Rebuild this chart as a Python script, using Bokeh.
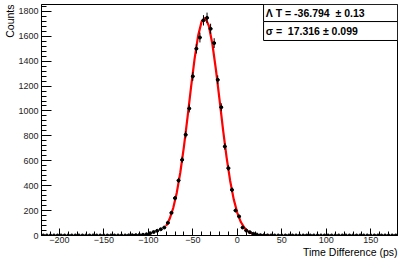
import math
from bokeh.plotting import figure
from bokeh.models import (Range1d, SingleIntervalTicker, Label, BoxAnnotation,
                          ColumnDataSource, Title)
from bokeh.embed import file_html
from bokeh.resources import INLINE

# ---- data ----
hist_start = -220.0
bin_width = 4.0
counts = [
    0, 0, 0, 0, 0, 0, 0, 0, 0, 0,          # -218 .. -182
    0, 0, 0, 0, 0, 0, 0, 0, 0, 0,          # -178 .. -142
    0, 0, 0, 0, 1, 2, 3, 4, 6, 10,         # -138 .. -102
    18, 28, 38, 50, 64, 102, 182, 300, 442, 608,   # -98 .. -62
    809, 1020, 1278, 1500, 1590, 1728, 1748, 1660, 1545, 1250,  # -58 .. -22
    1030, 715, 541, 367, 201, 153, 64, 40, 27, 14,  # -18 .. 18
    7, 3, 2, 1, 0, 0, 0, 0, 0, 0,          # 22 .. 58
    0, 0, 0, 0, 0, 0, 0, 0, 0, 0,          # 62 .. 98
    0, 0, 0, 0, 0, 0, 0, 0, 0, 0,          # 102 .. 138
    0, 0, 0, 0, 0, 0, 0, 0, 0, 0,          # 142 .. 178
]
fit_x = [-80, -76, -72, -68, -64, -60, -56, -52, -48, -44, -40, -36, -32,
         -28, -24, -20, -16, -12, -8, -4, 0, 4, 8, 12, 16, 20, 24, 28, 32, 36, 40]
fit_y = [77, 134, 221, 344, 508, 712, 945, 1190, 1419, 1605, 1720, 1748, 1684,
         1538, 1331, 1093, 849, 626, 438, 290, 182, 108, 61, 33, 17, 8, 4, 2, 1, 0, 0]
stat_lines = ["\u039b T = -36.794 \u00a0\u00b1 0.13", "\u03c3 = \u00a017.316 \u00b1 0.099"]
x_title = "Time Difference (ps)"
y_title = "Counts"

x_lo, x_hi = -220, 180
y_lo, y_hi = 0, 1855

centers = [hist_start + bin_width * (i + 0.5) for i in range(len(counts))]
errs = [math.sqrt(c) for c in counts]
src = ColumnDataSource(dict(
    x=centers, y=counts,
    xl=[c - bin_width / 2 for c in centers], xr=[c + bin_width / 2 for c in centers],
    yl=[c - e for c, e in zip(counts, errs)], yh=[c + e for c, e in zip(counts, errs)],
))

FONT = "Liberation Sans"

p = figure(width=399, height=261, output_backend="svg", toolbar_location=None,
           x_range=Range1d(x_lo, x_hi), y_range=Range1d(y_lo, y_hi),
           min_border_left=41, min_border_right=2, min_border_top=4, min_border_bottom=26)
p.background_fill_color = "white"
p.border_fill_color = "white"
p.outline_line_color = "black"
p.outline_line_width = 1
p.grid.visible = False

p.xaxis.ticker = SingleIntervalTicker(interval=50, num_minor_ticks=5)
p.yaxis.ticker = SingleIntervalTicker(interval=200, num_minor_ticks=5)
for ax in (p.xaxis, p.yaxis):
    ax.axis_line_color = "black"
    ax.major_tick_out = 0
    ax.minor_tick_out = 0
    ax.major_tick_line_color = "black"
    ax.minor_tick_line_color = "black"
    ax.major_label_text_font = FONT
    ax.major_label_text_font_size = "9px"
    ax.major_label_text_color = "#222222"
p.xaxis.major_tick_in = 7
p.xaxis.minor_tick_in = 4
p.yaxis.major_tick_in = 10
p.yaxis.minor_tick_in = 5
p.xaxis.major_label_standoff = 1
p.yaxis.major_label_standoff = 3

# fit curve
p.line(fit_x, fit_y, line_color="#ff0000", line_width=2.2)

# data points with error bars
p.segment(x0="x", y0="yl", x1="x", y1="yh", source=src, line_color="black", line_width=1)
p.segment(x0="xl", y0="y", x1="xr", y1="y", source=src, line_color="black", line_width=1)
p.scatter(x="x", y="y", source=src, marker="circle", size=3,
          fill_color="black", line_color="black")

# stats box
p.add_layout(BoxAnnotation(left=29.5, right=x_hi, top=y_hi, bottom=1718,
                           fill_color="white", fill_alpha=1.0,
                           line_color="black", line_width=1, line_alpha=1.0))
p.add_layout(BoxAnnotation(left=29.5, right=x_hi, top=1718, bottom=1566,
                           fill_color="white", fill_alpha=1.0,
                           line_color="black", line_width=1, line_alpha=1.0))
for txt, yy in zip(stat_lines, [1785, 1644]):
    p.add_layout(Label(x=32, y=yy, text=txt, text_font=FONT, text_font_size="10.5px",
                       text_font_style="bold", text_baseline="middle", text_align="left",
                       text_color="black"))

# axis titles
p.add_layout(Title(text=y_title, align="right", text_font=FONT, text_font_size="10.5px",
                   text_font_style="normal", text_color="black", standoff=0), "left")
p.add_layout(Title(text=x_title, align="right", text_font=FONT, text_font_size="10.5px",
                   text_font_style="normal", text_color="black", standoff=-3), "below")

open("out.html", "w").write(file_html(p, INLINE))
